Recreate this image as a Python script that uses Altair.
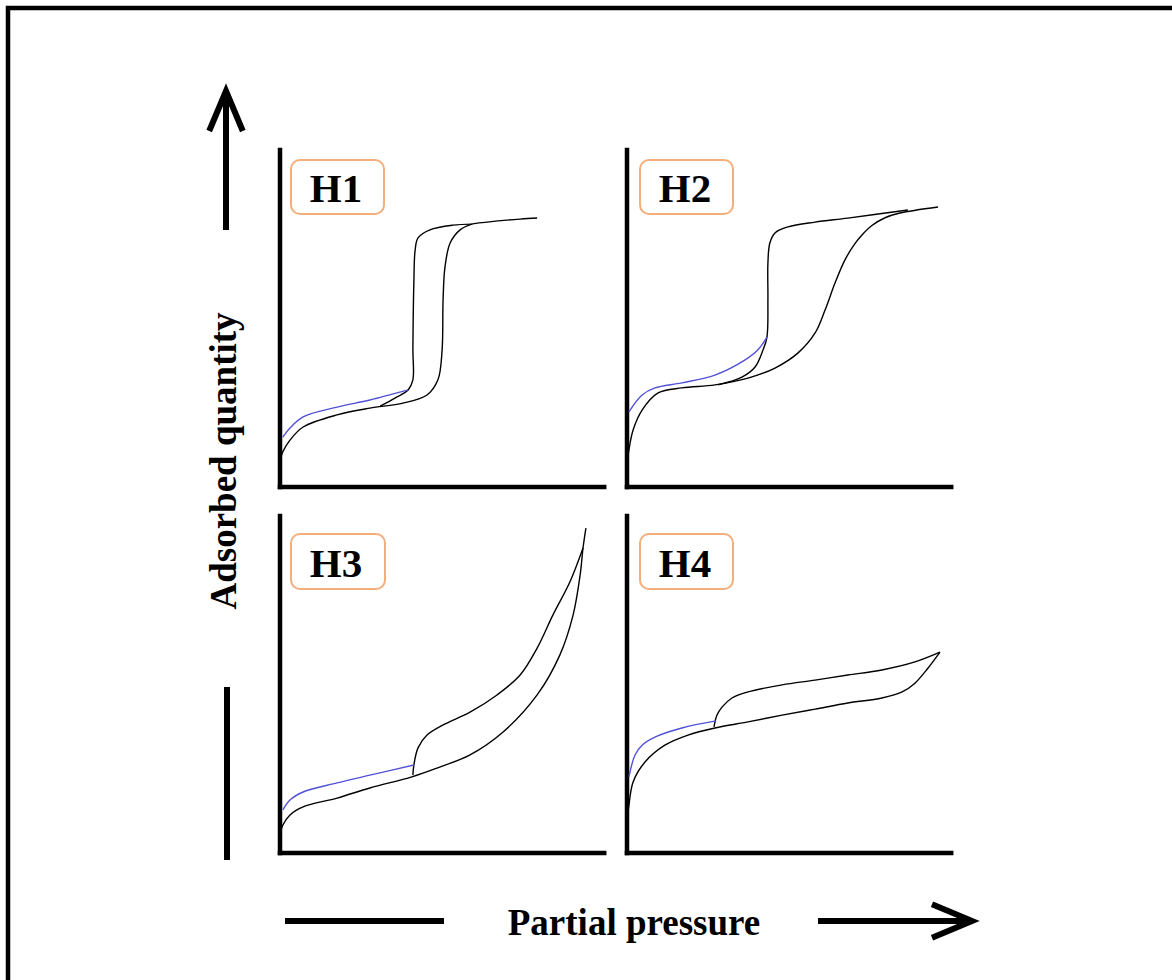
import altair as alt
import pandas as pd

# ---------------- data (relative pressure 0..1, amount 0..1) -------------
PANEL_NAMES = ["H1", "H2", "H3", "H4"]
BRANCHES = ["adsorption", "desorption", "desorption (low pressure)"]
BRANCH_COLORS = ["#000000", "#000000", "#5252D8"]

h1_ads_x = [0.003, 0.009, 0.031, 0.072, 0.178, 0.280, 0.383, 0.458, 0.492, 0.505, 0.508, 0.514, 0.530, 0.561, 0.598, 0.645, 0.748, 0.801]
h1_ads_y = [0.090, 0.105, 0.139, 0.178, 0.214, 0.234, 0.249, 0.273, 0.318, 0.407, 0.555, 0.653, 0.724, 0.763, 0.780, 0.786, 0.795, 0.798]
h1_des_x = [0.598, 0.539, 0.467, 0.430, 0.421, 0.417, 0.414, 0.414, 0.399, 0.358, 0.312]
h1_des_y = [0.780, 0.777, 0.763, 0.739, 0.703, 0.605, 0.407, 0.318, 0.288, 0.264, 0.240]
h1_low_x = [0.399, 0.280, 0.178, 0.072, 0.031, 0.009]
h1_low_y = [0.288, 0.258, 0.237, 0.208, 0.175, 0.148]

h2_ads_x = [0.003, 0.006, 0.019, 0.047, 0.097, 0.171, 0.274, 0.377, 0.461, 0.533, 0.586, 0.617, 0.648, 0.679, 0.710, 0.732, 0.763, 0.804, 0.850, 0.969]
h2_ads_y = [0.090, 0.110, 0.169, 0.228, 0.279, 0.294, 0.303, 0.323, 0.353, 0.398, 0.457, 0.525, 0.605, 0.674, 0.722, 0.748, 0.776, 0.799, 0.813, 0.831]
h2_des_x = [0.875, 0.688, 0.586, 0.502, 0.461, 0.445, 0.439, 0.439, 0.436, 0.424, 0.399, 0.358, 0.283]
h2_des_y = [0.822, 0.798, 0.786, 0.772, 0.754, 0.724, 0.665, 0.555, 0.445, 0.407, 0.356, 0.326, 0.303]
h2_low_x = [0.436, 0.408, 0.368, 0.274, 0.171, 0.087, 0.047, 0.006]
h2_low_y = [0.445, 0.407, 0.377, 0.332, 0.309, 0.294, 0.273, 0.223]

h3_ads_x = [0.003, 0.009, 0.031, 0.072, 0.178, 0.280, 0.411, 0.489, 0.592, 0.695, 0.801, 0.872, 0.913, 0.935, 0.944, 0.953]
h3_ads_y = [0.065, 0.083, 0.113, 0.137, 0.163, 0.193, 0.226, 0.252, 0.291, 0.359, 0.469, 0.588, 0.706, 0.825, 0.905, 0.964]
h3_des_x = [0.944, 0.903, 0.850, 0.801, 0.748, 0.676, 0.592, 0.508, 0.458, 0.430, 0.417, 0.414]
h3_des_y = [0.905, 0.804, 0.706, 0.608, 0.528, 0.469, 0.418, 0.380, 0.350, 0.312, 0.261, 0.231]
h3_low_x = [0.417, 0.280, 0.178, 0.072, 0.031, 0.009]
h3_low_y = [0.261, 0.231, 0.208, 0.181, 0.157, 0.128]

h4_ads_x = [0.003, 0.006, 0.019, 0.056, 0.118, 0.190, 0.274, 0.377, 0.483, 0.586, 0.688, 0.794, 0.857, 0.897, 0.938, 0.975]
h4_ads_y = [0.120, 0.142, 0.211, 0.270, 0.320, 0.350, 0.371, 0.389, 0.409, 0.427, 0.445, 0.460, 0.478, 0.504, 0.549, 0.596]
h4_des_x = [0.975, 0.897, 0.794, 0.688, 0.586, 0.483, 0.377, 0.327, 0.296, 0.280, 0.271]
h4_des_y = [0.596, 0.567, 0.543, 0.528, 0.513, 0.499, 0.478, 0.460, 0.433, 0.409, 0.374]
h4_low_x = [0.278, 0.171, 0.087, 0.047, 0.025, 0.006]
h4_low_y = [0.392, 0.371, 0.344, 0.320, 0.291, 0.226]

Y_TITLE = "Adsorbed quantity"
X_TITLE = "Partial pressure"

# ---------------- layout / style (pixels) ----------------
W, H = 1172, 980
FONT = "Liberation Serif"
PANEL_RANGES = {  # x pixel range, y pixel range (bottom, top)
    "H1": ([280, 601], [487, 150]),
    "H2": ([627, 948], [487, 150]),
    "H3": ([280, 601], [853, 516]),
    "H4": ([627, 948], [853, 516]),
}
LABEL_BOX = {  # x0, x1, y0, y1, text x, text baseline y
    "H1": (291, 384, 160, 214, 336, 202),
    "H2": (640, 733, 160, 214, 685, 202),
    "H3": (291, 385, 534, 589, 336, 577),
    "H4": (640, 733, 534, 589, 685, 577),
}
AXIS_X_END = 1.01

series = {
    "H1": [(h1_ads_x, h1_ads_y), (h1_des_x, h1_des_y), (h1_low_x, h1_low_y)],
    "H2": [(h2_ads_x, h2_ads_y), (h2_des_x, h2_des_y), (h2_low_x, h2_low_y)],
    "H3": [(h3_ads_x, h3_ads_y), (h3_des_x, h3_des_y), (h3_low_x, h3_low_y)],
    "H4": [(h4_ads_x, h4_ads_y), (h4_des_x, h4_des_y), (h4_low_x, h4_low_y)],
}


def panel(name):
    rows = []
    for branch, (xs, ys) in zip(BRANCHES, series[name]):
        for i, (xv, yv) in enumerate(zip(xs, ys)):
            rows.append({"branch": branch, "i": i, "x": xv, "y": yv})
    df = pd.DataFrame(rows)
    xr, yr = PANEL_RANGES[name]
    xs = alt.Scale(domain=[0, 1], range=xr, nice=False, zero=False)
    ys = alt.Scale(domain=[0, 1], range=yr, nice=False, zero=False)

    axes_df = pd.DataFrame({"x": [0, 0], "x2": [0, AXIS_X_END], "y": [0, 0], "y2": [1, 0]})
    axes = alt.Chart(axes_df).mark_rule(color="black", strokeWidth=4.5, strokeCap="square").encode(
        x=alt.X("x:Q", scale=xs, axis=None),
        x2="x2:Q",
        y=alt.Y("y:Q", scale=ys, axis=None),
        y2="y2:Q",
    )
    lines = alt.Chart(df).mark_line(strokeWidth=1.4, interpolate="catmull-rom").encode(
        x=alt.X("x:Q", scale=xs, axis=None),
        y=alt.Y("y:Q", scale=ys, axis=None),
        color=alt.Color("branch:N", scale=alt.Scale(domain=BRANCHES, range=BRANCH_COLORS), legend=None),
        detail="branch:N",
        order="i:Q",
    )
    bx0, bx1, by0, by1, tx, ty = LABEL_BOX[name]
    lab = pd.DataFrame({"label": [name]})
    box = alt.Chart(lab).mark_rect(
        fill="white", stroke="#F4AE7C", strokeWidth=2, cornerRadius=9
    ).encode(x=alt.value(bx0), x2=alt.value(bx1), y=alt.value(by0), y2=alt.value(by1))
    txt = alt.Chart(lab).mark_text(
        font=FONT, fontWeight="bold", fontSize=41, color="black", align="center", baseline="alphabetic"
    ).encode(text="label:N", x=alt.value(tx), y=alt.value(ty))
    return alt.layer(axes, lines, box, txt)


one = pd.DataFrame({"k": [1]})
border = alt.Chart(one).mark_rect(fill=None, stroke="black", strokeWidth=4.5).encode(
    x=alt.value(8), x2=alt.value(W + 40), y=alt.value(8), y2=alt.value(H + 40)
)
# y-axis arrow and bar
y_shaft = alt.Chart(one).mark_rule(color="black", strokeWidth=6).encode(
    x=alt.value(226), y=alt.value(92), y2=alt.value(230)
)
chevron = "M-0.42,0 L0,-1 L0.42,0"
y_head = alt.Chart(one).mark_point(
    shape=chevron, filled=False, stroke="black", strokeWidth=6, size=6400, strokeJoin="miter", opacity=1
).encode(x=alt.value(226), y=alt.value(131))
y_bar = alt.Chart(one).mark_rule(color="black", strokeWidth=6).encode(
    x=alt.value(227), y=alt.value(687), y2=alt.value(860)
)
y_text = alt.Chart(pd.DataFrame({"t": [Y_TITLE]})).mark_text(
    font=FONT, fontWeight="bold", fontSize=37, angle=270, align="center", baseline="middle", color="black"
).encode(text="t:N", x=alt.value(225), y=alt.value(461))
# x-axis bar and arrow
x_bar = alt.Chart(one).mark_rule(color="black", strokeWidth=6).encode(
    x=alt.value(285), x2=alt.value(444), y=alt.value(921)
)
x_shaft = alt.Chart(one).mark_rule(color="black", strokeWidth=6).encode(
    x=alt.value(818), x2=alt.value(970), y=alt.value(921)
)
x_head = alt.Chart(one).mark_point(
    shape=chevron, filled=False, stroke="black", strokeWidth=6, size=6400, strokeJoin="miter", angle=90, opacity=1
).encode(x=alt.value(932), y=alt.value(921))
x_text = alt.Chart(pd.DataFrame({"t": [X_TITLE]})).mark_text(
    font=FONT, fontWeight="bold", fontSize=37, align="center", baseline="alphabetic", color="black"
).encode(text="t:N", x=alt.value(634), y=alt.value(935))

chart = alt.layer(
    border,
    *[panel(n) for n in PANEL_NAMES],
    y_shaft, y_head, y_bar, y_text, x_bar, x_shaft, x_head, x_text,
).resolve_scale(x="independent", y="independent").properties(
    width=W, height=H, autosize=alt.AutoSizeParams(type="none"), padding=0, background="white"
).configure_view(stroke=None)

chart.save("out.html", embed_options={"renderer": "svg", "actions": False})
